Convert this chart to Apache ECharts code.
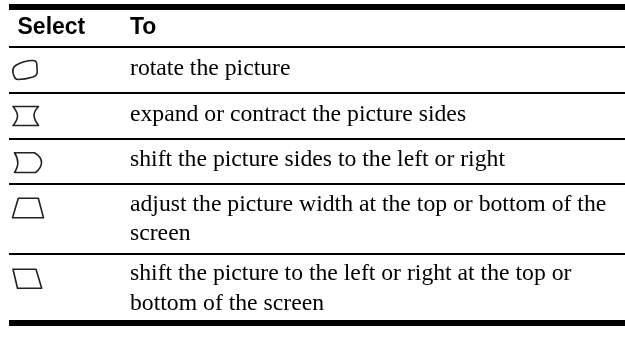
<!DOCTYPE html>
<html><head><meta charset="utf-8">
<style>html,body{margin:0;padding:0;background:#fff}#c{width:625px;height:341px}</style>
<script src="https://cdn.jsdelivr.net/npm/echarts@6/dist/echarts.min.js"></script>
</head><body><div id="c"></div>
<script>
const headers = ["Select", "To"];
const rowLines = [
  ["rotate the picture"],
  ["expand or contract the picture sides"],
  ["shift the picture sides to the left or right"],
  ["adjust the picture width at the top or bottom of the", "screen"],
  ["shift the picture to the left or right at the top or", "bottom of the screen"]
];
const baselines = [74.5, 120.5, 166, [210.5, 239.5], [280, 309.5]];
const icons = [
  "M15.5 65.5 Q24 60.5 33 60.5 Q36.5 60.5 36.8 64 L37.2 72 Q37.2 75.5 33 77 Q25 79.5 18 79.5 Q15 79.5 14 76 Q11 69 15.5 65.5 Z",
  "M13 106.5 L38.5 106.5 Q33.5 112 34 116 Q34.5 120.5 38.5 125.5 L13 125.5 Q17.5 120.5 17.5 116 Q17.5 112 13 106.5 Z",
  "M14.5 152.8 L34.5 152.8 Q41.5 157 41.5 162.5 Q41.5 168 35.5 172.5 L14.5 172.5 Q18 167 17.8 162.5 Q17.8 158 14.5 152.8 Z",
  "M18.3 198.3 L38.3 198.3 L43.5 217.7 L12.5 217.7 Z",
  "M13 269.3 L36 269.3 L41.7 288.3 L17.5 288.3 Z"
];
const rules = [[4,10],[46,48],[92,94],[138,140],[183,185],[253,255],[320,326]];
const elements = [];
rules.forEach(r => elements.push({type:'rect',silent:true,shape:{x:9,y:r[0],width:616,height:r[1]-r[0]},style:{fill:'#000'}}));
const hx=[17.5,130];
headers.forEach((h,i)=>elements.push({type:'text',style:{text:h,x:hx[i],y:27.5,font:'bold 23px "Liberation Sans"',fill:'#000',verticalAlign:'middle'}}));
rowLines.forEach((lines,i)=>{
  const bl=[].concat(baselines[i]);
  lines.forEach((t,j)=>elements.push({type:'text',style:{text:t,x:130,y:bl[j]-6,font:'23.7px "Liberation Serif"',fill:'#000',verticalAlign:'middle'}}));
});
icons.forEach((p,i)=>{
  const name='icon'+i;
  echarts.graphic.registerShape(name, echarts.graphic.extendPath(p,{}));
  elements.push({type:name,silent:true,style:{fill:'none',stroke:'#222',lineWidth:1.6,lineJoin:'round'}});
});
const chart=echarts.init(document.getElementById('c'),null,{renderer:'canvas'});
chart.setOption({animation:false,backgroundColor:'#fff',graphic:{elements}});
</script></body></html>
